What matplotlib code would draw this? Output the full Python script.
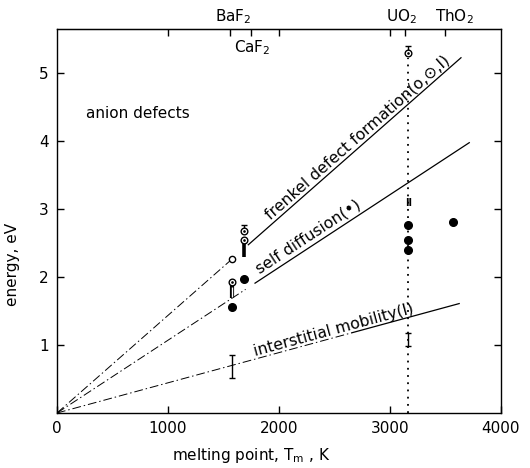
import numpy as np
import matplotlib
matplotlib.use("Agg")
import matplotlib.pyplot as plt

# ---------------- data ----------------
# line fits (energy = slope * Tm), with the extents of the dash-dot and solid parts
line_names = ["frenkel", "self", "interstitial"]
slopes = [1.435e-3, 1.07e-3, 4.44e-4]
dash_ranges = [(0, 1560), (0, 1700), (0, 2650)]
solid_ranges = [(1720, 3645), (1780, 3720), (2650, 3630)]

# compounds: melting point positions of top ticks
compounds = ["BaF$_2$", "CaF$_2$", "UO$_2$", "ThO$_2$"]
compound_tick_x = [1560, 1750, 3140, 3500]

# filled circles (self diffusion)
filled_x = [1581, 1686, 3165, 3165, 3165, 3567]
filled_y = [1.56, 1.97, 2.76, 2.54, 2.39, 2.81]

# open circles (frenkel)
open_x = [1581]
open_y = [2.26]

# dotted open circles
dotc_x = [1581, 1686, 1686, 3165]
dotc_y = [1.92, 2.55, 2.67, 5.29]

# thick error bars (x, low, high)
thick_x = [1686]
thick_lo = [2.30]
thick_hi = [2.52]

# hollow bar (BaF2)
hollow_x = [1581]
hollow_lo = [1.69]
hollow_hi = [1.88]

# thin error bars with caps
thin_x = [1686, 1581, 3165, 3165]
thin_lo = [2.67, 0.52, 0.98, 5.29]
thin_hi = [2.77, 0.85, 1.18, 5.40]

# double bar symbol at UO2
dbl_x = [3165]
dbl_y = [3.09]

uo2_line_x = 3160
uo2_line_top = 5.22

xticks = [0, 1000, 2000, 3000, 4000]
yticks = [1, 2, 3, 4, 5]

# ---------------- figure ----------------
fig = plt.figure(figsize=(5.30, 4.68), dpi=100)
ax = fig.add_axes([0.1075, 0.1175, 0.8375, 0.8205])
ax.set_xlim(0, 4000)
ax.set_ylim(0, 5.647)

lw = 0.9
for s, (d0, d1), (s0, s1) in zip(slopes, dash_ranges, solid_ranges):
    xd = np.array([d0, d1])
    ax.plot(xd, s * xd, color="black", lw=0.7, linestyle=(0, (9, 3, 1.5, 3)))
    xs = np.array([s0, s1])
    ax.plot(xs, s * xs, color="black", lw=lw, solid_capstyle="butt")

# vertical dotted line at UO2
ax.plot([uo2_line_x, uo2_line_x], [0, uo2_line_top], color="black", lw=1.3,
        linestyle=(0, (1, 3)))

# markers
ax.plot(filled_x, filled_y, "o", color="black", ms=5.5, zorder=5)
ax.plot(open_x, open_y, "o", mfc="white", mec="black", mew=1.0, ms=4.5, zorder=5)
ax.plot(dotc_x, dotc_y, "o", mfc="white", mec="black", mew=1.0, ms=4.8, zorder=5)
ax.plot(dotc_x, dotc_y, ".", color="black", ms=1.8, zorder=6)

for x, lo, hi in zip(thick_x, thick_lo, thick_hi):
    ax.plot([x, x], [lo, hi], color="black", lw=2.6, solid_capstyle="butt")
for x, lo, hi in zip(hollow_x, hollow_lo, hollow_hi):
    ax.plot([x, x], [lo, hi], color="black", lw=3.0, solid_capstyle="butt")
    ax.plot([x, x], [lo + 0.02, hi - 0.02], color="white", lw=1.0, solid_capstyle="butt")
ax.errorbar(thin_x, [(a + b) / 2 for a, b in zip(thin_lo, thin_hi)],
            yerr=[[(b - a) / 2 for a, b in zip(thin_lo, thin_hi)]] * 2,
            fmt="none", ecolor="black", elinewidth=1.0, capsize=2.5, capthick=1.0)
for x, y in zip(dbl_x, dbl_y):
    ax.text(x, y, "II", ha="center", va="center", fontsize=7, fontweight="bold")

# rotated labels along lines
fs = 11
def line_label(txt, x, dy, s, size):
    ang = np.degrees(np.arctan(s))
    ax.text(x, s * x + dy, txt, rotation=ang, rotation_mode="anchor",
            transform_rotates_text=True, ha="left", va="baseline", fontsize=size)

line_label("frenkel defect formation(o,\u2299,I)", 1920, 0.08, slopes[0], 11.3)
line_label("self diffusion(\u2022)", 1830, 0.09, slopes[1], 11.3)
line_label("interstitial mobility(I)", 1790, 0.04, slopes[2], 11.3)

ax.text(260, 4.4, "anion defects", fontsize=fs, ha="left", va="center")

# compound labels
ax.text(1590, 5.83, compounds[0], ha="center", va="center", fontsize=fs)
ax.text(1760, 5.38, compounds[1], ha="center", va="center", fontsize=fs)
ax.text(3105, 5.83, compounds[2], ha="center", va="center", fontsize=fs)
ax.text(3585, 5.83, compounds[3], ha="center", va="center", fontsize=fs)

# axes styling
for sp in ax.spines.values():
    sp.set_linewidth(1.0)
ax.set_xticks(xticks)
ax.set_xticklabels([str(v) for v in xticks], fontsize=fs)
ax.set_yticks(yticks)
ax.set_yticklabels([str(v) for v in yticks], fontsize=fs)
ax.tick_params(direction="in", length=5, width=1.0, right=True, top=False, pad=6)

top = ax.secondary_xaxis("top")
top.set_xticks([1000, 2000, 3000] + compound_tick_x)
top.set_xticklabels([])
top.tick_params(direction="in", length=5, width=1.0)

ax.set_xlabel("melting point, T$_\\mathrm{m}$ , K", fontsize=fs)
ax.xaxis.set_label_coords(0.437, -0.085)
ax.set_ylabel("energy, eV", fontsize=fs)
ax.yaxis.set_label_coords(-0.083, 0.386)

fig.savefig("out.png", dpi=100)
